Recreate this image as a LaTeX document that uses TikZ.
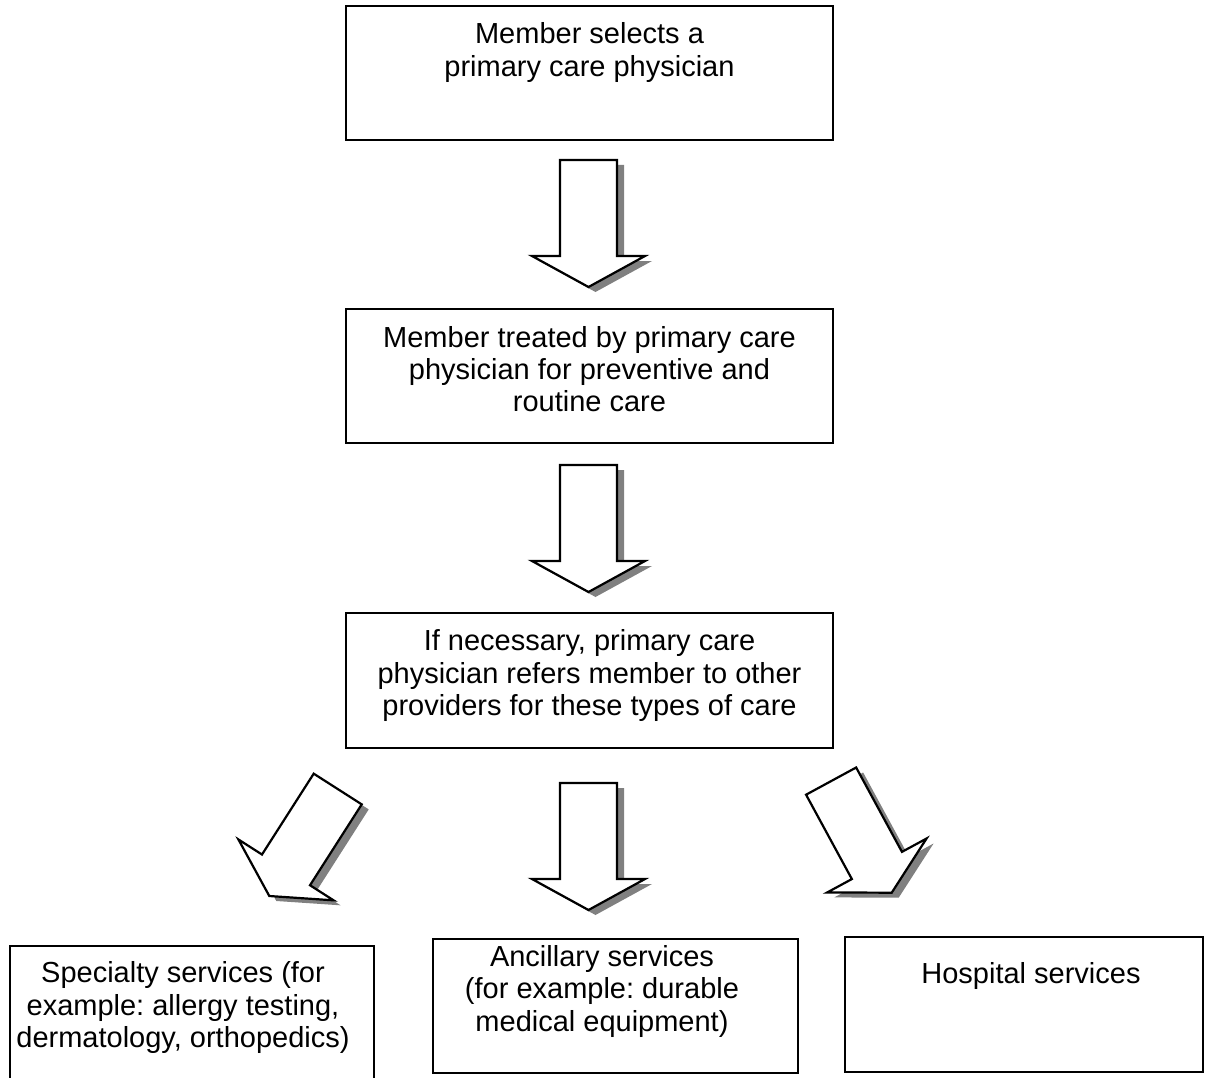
\documentclass[tikz,border=0pt]{standalone}
\usepackage{fontspec}
\setmainfont{Liberation Sans}
\usetikzlibrary{positioning}
\definecolor{shadowgray}{HTML}{808080}
\frenchspacing
\tikzset{
  flowbox/.style={draw,line width=2pt,rectangle,inner sep=0pt,anchor=north west},
  boxtext/.style={inner sep=0pt,align=center,font=\fontsize{29}{32.4}\selectfont},
  arrowshadow/.style={fill=shadowgray},
  arrowbody/.style={draw,fill=white,line width=2.2pt,line join=miter},
  blockarrow/.pic={
    \path[pic actions] (0,0)--(56.5,31)--(28.5,31)--(28.5,127)--(-28.5,127)--(-28.5,31)--(-56.5,31)--cycle;
  }
}
\begin{document}
\begin{tikzpicture}[x=1pt,y=1pt]
  \useasboundingbox (0,0) rectangle (1210,-1078);
  \node[flowbox,minimum width=487pt,minimum height=134pt] (select) at (345,-5) {};
  \node[flowbox,minimum width=487pt,minimum height=134pt] (treat) at (345,-308) {};
  \node[flowbox,minimum width=487pt,minimum height=135pt] (refer) at (345,-612) {};
  \node[flowbox,minimum width=364pt,minimum height=139pt] (specialty) at (9,-945) {};
  \node[flowbox,minimum width=365pt,minimum height=134pt] (ancillary) at (432,-938) {};
  \node[flowbox,minimum width=358pt,minimum height=135pt] (hospital) at (844,-936) {};
  \node[boxtext,below=17.5pt of select.north] (selecttext) {Member selects a\\primary care physician};
  \node[boxtext,below=17.9pt of treat.north] (treattext) {Member treated by primary care\\physician for preventive and\\routine care};
  \node[boxtext,below=17.5pt of refer.north] (refertext) {If necessary, primary care\\physician refers member to other\\providers for these types of care};
  \node[boxtext,below=16.6pt of specialty.north,xshift=-9pt] (specialtytext) {Specialty services (for\\example: allergy testing,\\dermatology, orthopedics)};
  \node[boxtext,below=7.2pt of ancillary.north,xshift=-13.5pt] (ancillarytext) {Ancillary services\\(for example: durable\\medical equipment)};
  \node[boxtext,below=26.5pt of hospital.north,xshift=7pt] (hospitaltext) {Hospital services};
  \foreach \x/\y/\a in {588.5/287/0, 588.5/592/0, 588.5/910/0, 269.3/896/-32.6, 891.7/892.7/28.5} {
    \pic[arrowshadow,rotate=\a] at (\x+7,-\y-5) {blockarrow};
    \pic[arrowbody,rotate=\a] at (\x,-\y) {blockarrow};
  }
\end{tikzpicture}
\end{document}
